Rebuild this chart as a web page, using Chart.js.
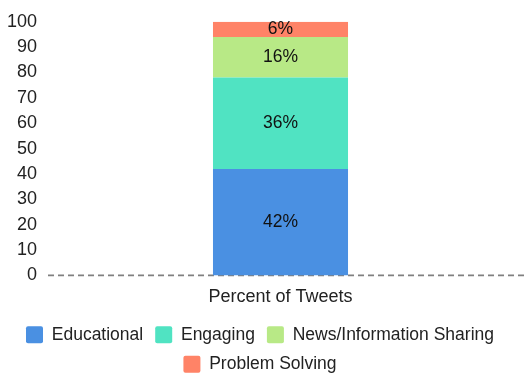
<!DOCTYPE html>
<html>
<head>
<meta charset="utf-8">
<script src="https://cdn.jsdelivr.net/npm/chart.js@4"></script>
<style>
html,body{margin:0;padding:0;background:#fff;}
#wrap{width:527px;height:375px;}
</style>
</head>
<body>
<div id="wrap"><canvas id="c" width="527" height="375"></canvas></div>
<script>
const categories = ["Percent of Tweets"];
const seriesNames = ["Educational", "Engaging", "News/Information Sharing", "Problem Solving"];
const educational = [42];
const engaging = [36];
const newsSharing = [16];
const problemSolving = [6];
const seriesColors = ["#4A90E2", "#50E3C2", "#B8E986", "#FF8367"];
const yTicks = [0,10,20,30,40,50,60,70,80,90,100];

const seriesValues = [educational, engaging, newsSharing, problemSolving];
const FONT = '"Liberation Sans", Arial, sans-serif';

const labelPlugin = {
  id: 'segLabels',
  beforeDatasetsDraw(chart) {
    const ctx = chart.ctx;
    const y0 = chart.scales.y.getPixelForValue(0);
    ctx.save();
    ctx.strokeStyle = '#808080';
    ctx.lineWidth = 1.6;
    ctx.setLineDash([6, 4]);
    ctx.beginPath();
    ctx.moveTo(chart.chartArea.left, y0);
    ctx.lineTo(chart.width, y0);
    ctx.stroke();
    ctx.restore();
  },
  afterDatasetsDraw(chart) {
    const ctx = chart.ctx;
    ctx.save();
    ctx.font = '17.5px ' + FONT;
    ctx.fillStyle = '#111';
    ctx.textAlign = 'center';
    ctx.textBaseline = 'middle';
    chart.data.datasets.forEach((ds, i) => {
      const meta = chart.getDatasetMeta(i);
      meta.data.forEach((bar, j) => {
        const v = ds.data[j];
        const y = (bar.y + bar.base) / 2;
        ctx.fillText(v + '%', bar.x, y);
      });
    });
    ctx.restore();
  }
};

new Chart(document.getElementById('c'), {
  type: 'bar',
  data: {
    labels: categories,
    datasets: seriesNames.map((n, i) => ({
      label: n,
      data: seriesValues[i],
      backgroundColor: seriesColors[i],
      borderWidth: 0,
      categoryPercentage: 0.8,
      barPercentage: 0.363
    }))
  },
  options: {
    responsive: false,
    animation: false,
    layout: { padding: { top: 8, right: 14, left: 7, bottom: -8 } },
    plugins: {
      tooltip: { enabled: false },
      legend: {
        position: 'bottom',
        labels: {
          boxWidth: 17,
          boxHeight: 17,
          padding: 12,
          color: '#222',
          font: { size: 17.5, family: FONT },
          useBorderRadius: true,
          borderRadius: 2
        }
      }
    },
    scales: {
      x: {
        stacked: true,
        grid: { display: false, drawTicks: false },
        border: { display: false },
        afterFit(scale) { scale.height -= 5; },
        ticks: { color: '#222', padding: 11, font: { size: 18, family: FONT } }
      },
      y: {
        stacked: true,
        min: 0,
        max: 100,
        afterBuildTicks(axis) { axis.ticks = yTicks.map(v => ({ value: v })); },
        afterFit(scale) { scale.width = 41; },
        grid: { display: false, drawTicks: false },
        border: { display: false },
        ticks: { color: '#222', padding: 11, autoSkip: false, font: { size: 18, family: FONT } }
      }
    }
  },
  plugins: [labelPlugin]
});
</script>
</body>
</html>
